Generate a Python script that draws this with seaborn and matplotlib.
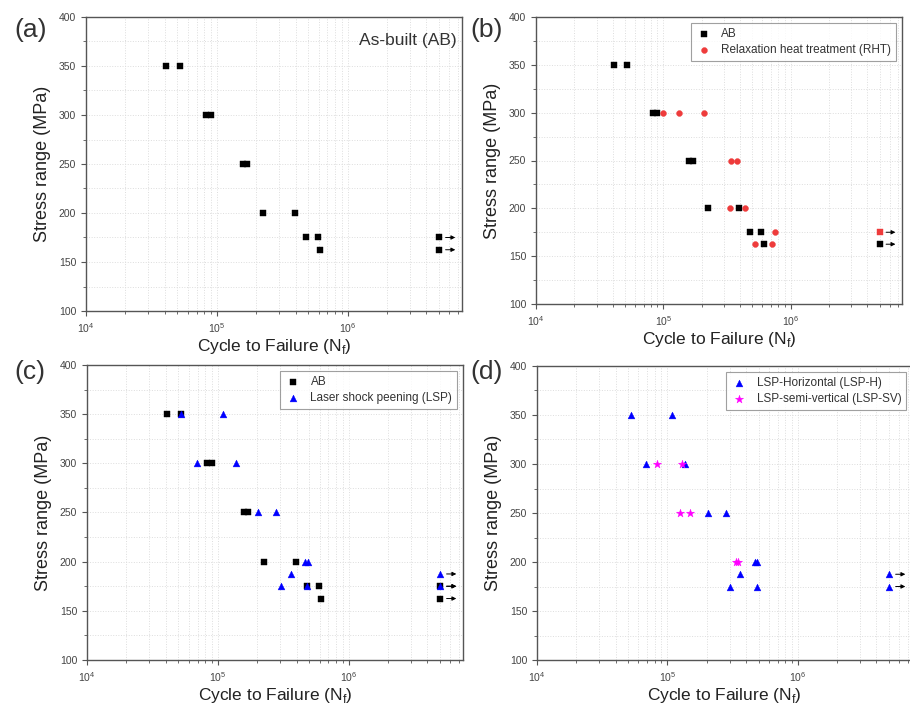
import numpy as np
import pandas as pd
import matplotlib
matplotlib.use("Agg")
import matplotlib.pyplot as plt
import seaborn as sns
from matplotlib.ticker import LogLocator, MultipleLocator, NullFormatter

# S-N data (cycles to failure, stress range in MPa)
ab_n = [4.12e4, 5.2e4, 8.3e4, 9.0e4, 1.58e5, 1.70e5, 2.26e5, 3.94e5, 4.81e5, 5.9e5, 6.15e5]
ab_s = [350, 350, 300, 300, 250, 250, 200, 200, 175, 175, 162.5]
ab_runout_n = [5.0e6, 5.0e6]
ab_runout_s = [175, 162.5]

rht_n = [1.0e5, 1.32e5, 2.09e5, 3.43e5, 3.82e5, 3.35e5, 4.42e5, 7.5e5, 5.27e5, 7.18e5]
rht_s = [300, 300, 300, 250, 250, 200, 200, 175, 162.5, 162.5]
rht_runout_n = [5.0e6]
rht_runout_s = [175]

lsp_n = [5.25e4, 1.09e5, 6.9e4, 1.37e5, 2.04e5, 2.79e5, 4.67e5, 4.9e5, 3.6e5, 3.03e5, 4.84e5]
lsp_s = [350, 350, 300, 300, 250, 250, 200, 200, 187.5, 175, 175]
lsp_runout_n = [5.0e6, 5.0e6]
lsp_runout_s = [187.5, 175]

sv_n = [8.3e4, 1.29e5, 1.25e5, 1.49e5, 3.38e5, 3.45e5]
sv_s = [300, 300, 250, 250, 200, 200]

sns.set_style("white")
plt.rcParams['font.family'] = ['Liberation Sans', 'DejaVu Sans']

BLACK = '#000000'
RED = '#EE3B3B'
BLUE = '#0000FF'
MAGENTA = '#FF00FF'

SQ, CI, TRI, STAR = 16, 18, 24, 38

W, H = 910, 708
fig = plt.figure(figsize=(W / 100, H / 100), dpi=100)


def add_axes_px(left, top, right, bottom):
    return fig.add_axes([left / W, 1 - bottom / H, (right - left) / W, (bottom - top) / H])


def style_axes(ax):
    """Ejes log, rejilla punteada y marco gris"""
    ax.set_xscale('log')
    ax.set_xlim(1e4, 7.5e6)
    ax.set_ylim(100, 400)
    ax.yaxis.set_major_locator(MultipleLocator(50))
    ax.yaxis.set_minor_locator(MultipleLocator(25))
    ax.xaxis.set_major_locator(LogLocator(base=10, numticks=10))
    ax.xaxis.set_minor_locator(LogLocator(base=10, subs=np.arange(2, 10), numticks=20))
    ax.xaxis.set_minor_formatter(NullFormatter())
    ax.grid(which='both', color='#dddddd', linestyle=':', linewidth=0.7)
    for sp in ax.spines.values():
        sp.set_color('#555555')
        sp.set_linewidth(1.0)
        sp.set_visible(True)
    ax.tick_params(which='both', direction='out', colors='#555555', labelcolor='#444444',
                   labelsize=7.5, bottom=True, left=True, top=False, right=False)
    ax.tick_params(which='major', length=3.5)
    ax.tick_params(which='minor', length=2)
    ax.set_xlabel('Cycle to Failure (N$_\\mathregular{f}$)', fontsize=12.5, color='#222222', labelpad=2)
    ax.set_ylabel('Stress range (MPa)', fontsize=13, color='#222222', labelpad=6)
    ax.set_axisbelow(True)


def scatter(ax, n, s, marker, color, size, label=None):
    df = pd.DataFrame({'N': n, 'S': s})
    sns.scatterplot(data=df, x='N', y='S', marker=marker, color=color, s=size,
                    edgecolor=color, linewidth=0.3, label=label, ax=ax, zorder=3)


def runout_arrows(ax, n, s):
    for x, y in zip(n, s):
        ax.annotate('', xy=(x * 1.40, y), xytext=(x * 1.07, y),
                    arrowprops=dict(arrowstyle='-|>', color='black', lw=0.7, mutation_scale=6),
                    zorder=2)


def legend(ax):
    leg = ax.legend(loc='upper right', fontsize=8.5, frameon=True, fancybox=False,
                    borderpad=0.4, handletextpad=0.8, labelspacing=0.4,
                    borderaxespad=0.5, handlelength=1.4)
    leg.get_frame().set_edgecolor('#888888')
    leg.get_frame().set_linewidth(0.8)
    for t in leg.get_texts():
        t.set_color('#333333')


# (a) As-built
ax_a = add_axes_px(86, 17, 462, 311)
scatter(ax_a, ab_n, ab_s, 's', BLACK, SQ)
scatter(ax_a, ab_runout_n, ab_runout_s, 's', BLACK, SQ)
runout_arrows(ax_a, ab_runout_n, ab_runout_s)
style_axes(ax_a)
ax_a.text(0.985, 0.945, 'As-built (AB)', transform=ax_a.transAxes, ha='right', va='top',
          fontsize=12.5, color='#333333')

# (b) AB vs RHT
ax_b = add_axes_px(536, 17, 902, 304)
scatter(ax_b, ab_n, ab_s, 's', BLACK, SQ, 'AB')
scatter(ax_b, ab_runout_n[1:], ab_runout_s[1:], 's', BLACK, SQ)
scatter(ax_b, rht_n, rht_s, 'o', RED, CI, 'Relaxation heat treatment (RHT)')
scatter(ax_b, rht_runout_n, rht_runout_s, 's', RED, SQ)
runout_arrows(ax_b, ab_runout_n[1:], ab_runout_s[1:])
runout_arrows(ax_b, rht_runout_n, rht_runout_s)
style_axes(ax_b)
legend(ax_b)

# (c) AB vs LSP
ax_c = add_axes_px(87, 365, 463, 660)
scatter(ax_c, ab_n, ab_s, 's', BLACK, SQ, 'AB')
scatter(ax_c, ab_runout_n, ab_runout_s, 's', BLACK, SQ)
scatter(ax_c, lsp_n, lsp_s, '^', BLUE, TRI, 'Laser shock peening (LSP)')
scatter(ax_c, lsp_runout_n, lsp_runout_s, '^', BLUE, TRI)
runout_arrows(ax_c, ab_runout_n, ab_runout_s)
runout_arrows(ax_c, lsp_runout_n, lsp_runout_s)
style_axes(ax_c)
legend(ax_c)

# (d) LSP-H vs LSP-SV
ax_d = add_axes_px(537, 366, 912, 660)
scatter(ax_d, lsp_n, lsp_s, '^', BLUE, TRI, 'LSP-Horizontal (LSP-H)')
scatter(ax_d, lsp_runout_n, lsp_runout_s, '^', BLUE, TRI)
scatter(ax_d, sv_n, sv_s, '*', MAGENTA, STAR, 'LSP-semi-vertical (LSP-SV)')
runout_arrows(ax_d, lsp_runout_n, lsp_runout_s)
style_axes(ax_d)
legend(ax_d)

# Etiquetas de panel
for x, y, lab in [(14, 30, '(a)'), (470, 30, '(b)'), (14, 372, '(c)'), (470, 372, '(d)')]:
    fig.text(x / W, 1 - y / H, lab, fontsize=19, color='#333333', va='center', ha='left')

fig.savefig('out.png', dpi=100)
